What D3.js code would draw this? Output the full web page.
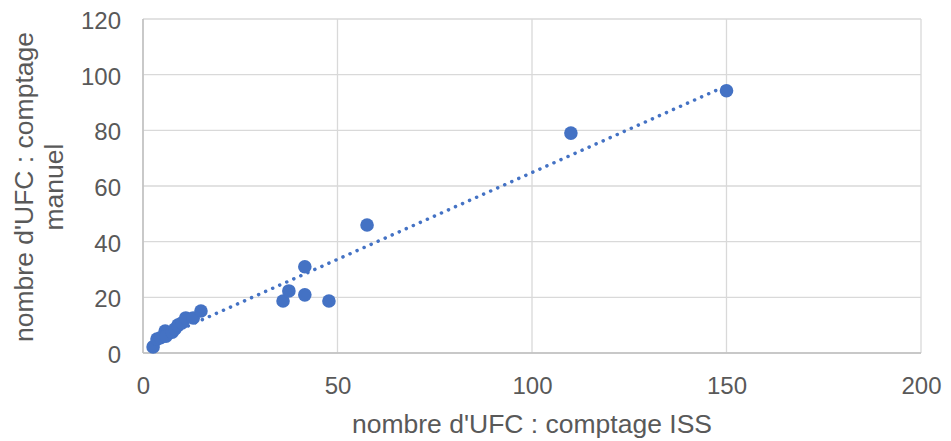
<!DOCTYPE html>
<html>
<head>
<meta charset="utf-8">
<style>
    body { margin: 0; background: #fff; }
    svg { font-family: 'Liberation Sans', Arial, sans-serif; }
    .grid line { stroke: #d9d9d9; stroke-width: 1.3; }
    .axis .domain { display: none; }
    .axis .tick line { display: none; }
    .axis .tick text { font-size: 24px; fill: #595959; }
    .title { font-size: 26.5px; fill: #595959; }
</style>
</head>
<body>
<svg width="951" height="441"></svg>
<script src="https://d3js.org/d3.v7.min.js"></script>
<script>
// nombre d'UFC : comptage ISS (x) vs comptage manuel (y)
let issCount = [2.6, 3.6, 4.5, 5.7, 5.9, 7.5, 8.2, 9, 10, 11, 12.9, 14.9, 36, 37.5, 41.6, 41.6, 47.8, 57.6, 110, 150];
let manualCount = [2.2, 5, 5.5, 7.9, 6, 7.5, 8.6, 10, 10.8, 12.6, 12.6, 15.1, 18.7, 22.3, 31, 20.9, 18.7, 46, 79, 94.2];
let xTicks = [0, 50, 100, 150, 200];
let yTicks = [0, 20, 40, 60, 80, 100, 120];

let svg = d3.select("svg");

let x = d3.scaleLinear().domain([0, 200]).range([143, 921]);
let y = d3.scaleLinear().domain([0, 120]).range([353, 19]);

// gridlines
svg.append("g").attr("class", "grid")
    .selectAll("line").data(yTicks).join("line")
    .attr("x1", x(0)).attr("x2", x(200))
    .attr("y1", d => y(d)).attr("y2", d => y(d));
svg.append("g").attr("class", "grid")
    .selectAll("line").data(xTicks).join("line")
    .attr("x1", d => x(d)).attr("x2", d => x(d))
    .attr("y1", y(0)).attr("y2", y(120));

// axis lines
svg.append("line").attr("x1", x(0)).attr("x2", x(0)).attr("y1", y(0)).attr("y2", y(120))
    .style("stroke", "#bfbfbf").style("stroke-width", 1.5);
svg.append("line").attr("x1", x(0)).attr("x2", x(200)).attr("y1", y(0)).attr("y2", y(0))
    .style("stroke", "#bfbfbf").style("stroke-width", 1.5);

svg.append("g").attr("class", "axis")
    .attr("transform", `translate(0,${y(0)})`)
    .call(d3.axisBottom(x).tickValues(xTicks).tickSize(0).tickPadding(24));
svg.append("g").attr("class", "axis")
    .attr("transform", `translate(${x(0)},0)`)
    .call(d3.axisLeft(y).tickValues(yTicks).tickSize(0).tickPadding(22))
    .selectAll("text").attr("dy", "0.4em");

// linear trend line (least squares)
let mx = d3.mean(issCount), my = d3.mean(manualCount);
let sxy = d3.sum(issCount, (v, i) => (v - mx) * (manualCount[i] - my));
let sxx = d3.sum(issCount, v => (v - mx) * (v - mx));
let slope = sxy / sxx, intercept = my - slope * mx;
let xr = d3.extent(issCount);
svg.append("path")
    .attr("d", d3.line()([[x(xr[0]), y(slope * xr[0] + intercept)], [x(xr[1]), y(slope * xr[1] + intercept)]]))
    .style("stroke", "#4472c4").style("stroke-width", 3.5)
    .style("stroke-linecap", "round").style("stroke-dasharray", "0.1 7.6")
    .style("fill", "none");

svg.append("g").selectAll("circle")
    .data(issCount.map((v, i) => [v, manualCount[i]]))
    .join("circle")
    .attr("cx", d => x(d[0])).attr("cy", d => y(d[1]))
    .attr("r", 6.8).style("fill", "#4472c4");

svg.append("text").attr("class", "title")
    .attr("x", 532).attr("y", 433)
    .attr("text-anchor", "middle")
    .text("nombre d'UFC : comptage ISS");

let yt = svg.append("text").attr("class", "title")
    .attr("text-anchor", "middle")
    .attr("transform", `translate(33,${y(60) + 1}) rotate(-90)`);
yt.append("tspan").attr("x", 0).attr("y", 0).text("nombre d'UFC : comptage");
yt.append("tspan").attr("x", 0).attr("y", 30).text("manuel");
</script>
</body>
</html>
